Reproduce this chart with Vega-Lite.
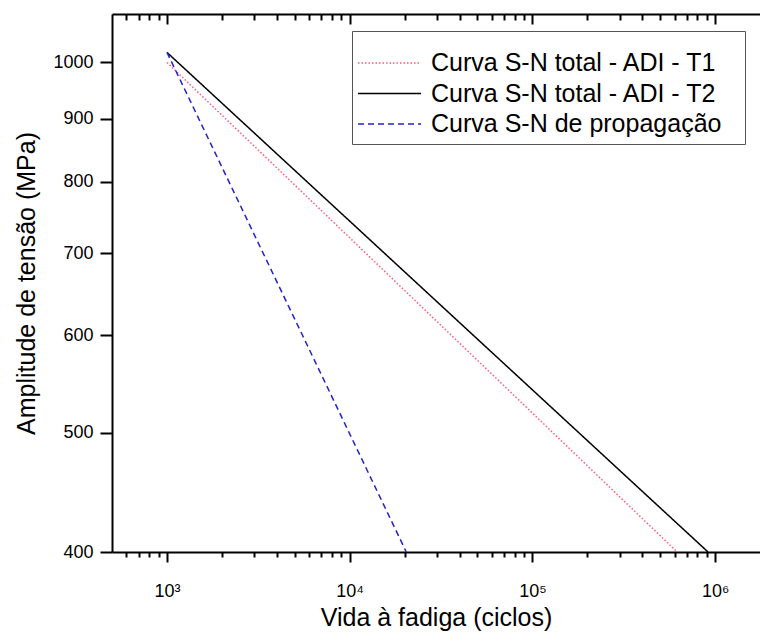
{
  "$schema": "https://vega.github.io/schema/vega-lite/v6.json",
  "autosize": "none",
  "width": 648,
  "height": 538,
  "padding": {"left": 112, "top": 14, "right": 0, "bottom": 82},
  "background": "white",
  "config": {
    "view": {"stroke": null},
    "font": "Liberation Sans",
    "axis": {"labelFont": "Liberation Sans", "titleFont": "Liberation Sans", "labelColor": "black", "titleColor": "black", "domainColor": "black", "tickColor": "black", "grid": false, "titleFontWeight": "normal"}
  },
  "data": {
    "values": [
      {"series": "Curva S-N total - ADI - T1", "N": 1000, "S": 1000},
      {"series": "Curva S-N total - ADI - T1", "N": 620000, "S": 400},
      {"series": "Curva S-N total - ADI - T2", "N": 1000, "S": 1019},
      {"series": "Curva S-N total - ADI - T2", "N": 914000, "S": 400},
      {"series": "Curva S-N de propagação", "N": 1000, "S": 1019},
      {"series": "Curva S-N de propagação", "N": 20400, "S": 400}
    ]
  },
  "layer": [
    {
      "mark": {"type": "line", "strokeWidth": 1.5, "clip": true},
      "encoding": {
        "x": {"field": "N", "type": "quantitative",
          "scale": {"type": "log", "domain": [500, 1760000], "nice": false},
          "axis": {"orient": "bottom", "values": [1000, 10000, 100000, 1000000],
            "labelExpr": "datum.value == 1000 ? '10³' : datum.value == 10000 ? '10⁴' : datum.value == 100000 ? '10⁵' : '10⁶'",
            "tickSize": 10, "tickWidth": 2, "domainWidth": 2, "labelFontSize": 18, "labelPadding": 20,
            "title": "Vida à fadiga (ciclos)", "titleFontSize": 25, "titlePadding": 5}},
        "y": {"field": "S", "type": "quantitative",
          "scale": {"type": "log", "domain": [400, 1095], "nice": false},
          "axis": {"orient": "left", "values": [400, 500, 600, 700, 800, 900, 1000], "format": "d",
            "tickSize": 12, "tickWidth": 2, "domainWidth": 2, "labelFontSize": 18, "labelPadding": 7,
            "title": "Amplitude de tensão (MPa)", "titleFontSize": 25, "titlePadding": 13}},
        "color": {"field": "series", "type": "nominal",
          "scale": {"domain": ["Curva S-N total - ADI - T1", "Curva S-N total - ADI - T2", "Curva S-N de propagação"], "range": ["#ff5a78", "#000000", "#2222cc"]},
          "legend": {"orient": "none", "legendX": 240, "legendY": 17, "title": " ", "titleFontSize": 8, "titlePadding": 4,
            "symbolType": "stroke", "symbolSize": 3969, "symbolStrokeWidth": 1.5, "clipHeight": 30,
            "labelFontSize": 25, "labelFont": "Liberation Sans", "labelColor": "black", "labelOffset": 9, "labelLimit": 500,
            "labelExpr": "datum.label + '\u2800'",
            "strokeColor": "#555555", "fillColor": "white", "padding": 5, "rowPadding": 0.5}},
        "strokeDash": {"field": "series", "type": "nominal",
          "scale": {"domain": ["Curva S-N total - ADI - T1", "Curva S-N total - ADI - T2", "Curva S-N de propagação"], "range": [[1.5, 2], [1, 0], [6, 4]]},
          "legend": null}
      }
    },
    {
      "mark": {"type": "point", "opacity": 0},
      "encoding": {
        "x": {"field": "N", "type": "quantitative",
          "axis": {"orient": "bottom", "values": [600, 700, 800, 900, 2000, 3000, 4000, 5000, 6000, 7000, 8000, 9000, 20000, 30000, 40000, 50000, 60000, 70000, 80000, 90000, 200000, 300000, 400000, 500000, 600000, 700000, 800000, 900000],
            "labels": false, "domain": false, "tickSize": 5, "tickWidth": 2, "title": null}},
        "y": {"field": "S", "type": "quantitative"}
      }
    },
    {
      "mark": {"type": "point", "opacity": 0},
      "encoding": {
        "x": {"field": "N", "type": "quantitative",
          "axis": {"orient": "top", "values": [1000, 10000, 100000, 1000000],
            "labels": false, "domain": true, "domainWidth": 2, "tickSize": -10, "tickWidth": 2, "title": null}},
        "y": {"field": "S", "type": "quantitative"}
      }
    },
    {
      "mark": {"type": "point", "opacity": 0},
      "encoding": {
        "x": {"field": "N", "type": "quantitative",
          "axis": {"orient": "top", "values": [600, 700, 800, 900, 2000, 3000, 4000, 5000, 6000, 7000, 8000, 9000, 20000, 30000, 40000, 50000, 60000, 70000, 80000, 90000, 200000, 300000, 400000, 500000, 600000, 700000, 800000, 900000],
            "labels": false, "domain": false, "tickSize": -6, "tickWidth": 2, "title": null}},
        "y": {"field": "S", "type": "quantitative"}
      }
    }
  ],
  "resolve": {"axis": {"x": "independent"}}
}
